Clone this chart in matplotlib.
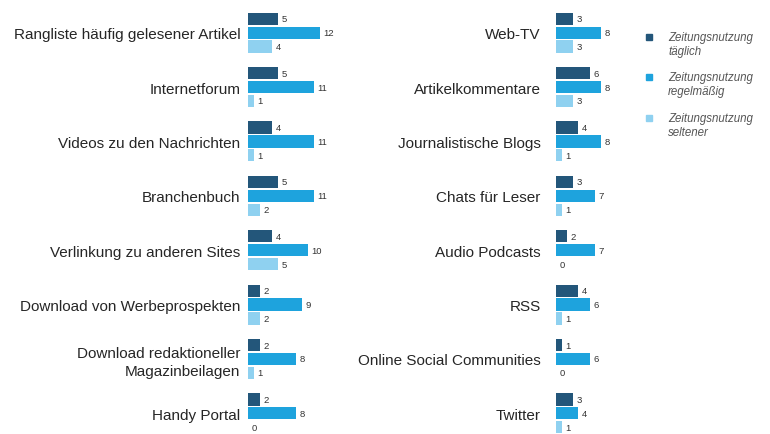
import numpy as np
import matplotlib.pyplot as plt
from matplotlib.patches import Rectangle

plt.rcParams['font.family'] = ['Liberation Sans', 'DejaVu Sans']

# Angebote, linke Spalte
left_labels = [
    "Rangliste häufig gelesener Artikel",
    "Internetforum",
    "Videos zu den Nachrichten",
    "Branchenbuch",
    "Verlinkung zu anderen Sites",
    "Download von Werbeprospekten",
    "Download redaktioneller\nMagazinbeilagen",
    "Handy Portal",
]
left_daily = [5, 5, 4, 5, 4, 2, 2, 2]
left_regular = [12, 11, 11, 11, 10, 9, 8, 8]
left_rare = [4, 1, 1, 2, 5, 2, 1, 0]

# Angebote, rechte Spalte
right_labels = [
    "Web-TV",
    "Artikelkommentare",
    "Journalistische Blogs",
    "Chats für Leser",
    "Audio Podcasts",
    "RSS",
    "Online Social Communities",
    "Twitter",
]
right_daily = [3, 6, 4, 3, 2, 4, 1, 3]
right_regular = [8, 8, 8, 7, 7, 6, 6, 4]
right_rare = [3, 3, 1, 1, 0, 1, 0, 1]

series_names = ["Zeitungsnutzung\ntäglich",
                "Zeitungsnutzung\nregelmäßig",
                "Zeitungsnutzung\nseltener"]
colors = ["#23567a", "#1ea3dd", "#8fd1f0"]

W, H = 770, 435
fig = plt.figure(figsize=(W / 100, H / 100), dpi=100)

offsets = [-0.255, 0.0, 0.255]
bar_h = 0.225
ylim = (7.38, -0.62)


def panel(x0, x1, px_per_unit, labels, series, pad):
    ax = fig.add_axes([x0 / W, 0, (x1 - x0) / W, 1])
    y = np.arange(len(labels))
    for vals, off, col in zip(series, offsets, colors):
        ax.barh(y + off, vals, height=bar_h, color=col, left=0)
        for yi, v in zip(y, vals):
            ax.annotate(str(v), (v, yi + off), xytext=(2.5, 0),
                        textcoords='offset points', va='center', ha='left',
                        fontsize=6.8, color='#333333')
    ax.set_xlim(0, (x1 - x0) / px_per_unit)
    ax.set_ylim(*ylim)
    ax.set_yticks(y)
    ax.set_yticklabels(labels, fontsize=11, color='#262626',
                       ha='right', multialignment='right', linespacing=1.35)
    ax.tick_params(axis='y', length=0, pad=pad)
    ax.set_xticks([])
    for s in ax.spines.values():
        s.set_visible(False)
    ax.patch.set_alpha(0)
    return ax


panel(248, 345, 6.0, left_labels, [left_daily, left_regular, left_rare], 5.5)
panel(556, 640, 5.6, right_labels, [right_daily, right_regular, right_rare], 11)

# Legende
leg_y = [38, 78, 119]
for name, col, yy in zip(series_names, colors, leg_y):
    fig.patches.append(Rectangle((646 / W, 1 - (yy + 3) / H), 6 / W, 6 / H,
                                 color=col, transform=fig.transFigure))
    fig.text(668 / W, 1 - (yy - 6) / H, name, fontsize=8.3, style='italic',
             color='#555555', va='top', ha='left', linespacing=1.25)

fig.savefig("out.png", dpi=100, facecolor='white')
